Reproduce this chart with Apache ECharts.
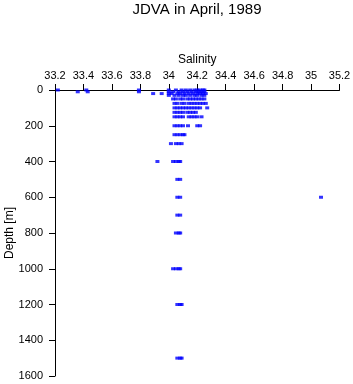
<!DOCTYPE html>
<html>
<head>
<meta charset="utf-8">
<script src="https://cdn.jsdelivr.net/npm/echarts@6/dist/echarts.min.js"></script>
<style>
  html, body { margin: 0; padding: 0; background: #fff; }
  #chart { width: 353px; height: 384px; }
</style>
</head>
<body>
<div id="chart"></div>
<script>
// standard sampling depths (m) and salinity readings at each depth
const depths = [0, 10, 20, 30, 50, 75, 100, 125, 150, 200, 250, 300, 400, 500, 600, 700, 800, 1000, 1200, 1500];
const salinity = [
    [33.22, 33.42, 33.79, 34.0, 34.05, 34.09, 34.12, 34.15, 34.18, 34.2, 34.22, 34.24, 34.25],
    [33.36, 33.43, 33.79, 34.0, 34.03, 34.07, 34.1, 34.13, 34.16, 34.19, 34.21, 34.23, 34.25],
    [33.89, 33.95, 34.0, 34.02, 34.06, 34.08, 34.11, 34.14, 34.17, 34.2, 34.22, 34.24, 34.26],
    [34.0, 34.04, 34.07, 34.1, 34.12, 34.15, 34.18, 34.2, 34.23, 34.25],
    [34.03, 34.05, 34.08, 34.1, 34.13, 34.15, 34.17, 34.19, 34.21, 34.23, 34.25],
    [34.04, 34.06, 34.09, 34.11, 34.14, 34.16, 34.18, 34.2, 34.22, 34.24, 34.26],
    [34.04, 34.06, 34.08, 34.1, 34.12, 34.14, 34.16, 34.18, 34.2, 34.22, 34.27],
    [34.04, 34.06, 34.08, 34.1, 34.13, 34.15, 34.17, 34.19],
    [34.04, 34.06, 34.08, 34.1, 34.14, 34.16, 34.18, 34.2, 34.23],
    [34.04, 34.06, 34.08, 34.1, 34.135, 34.2, 34.22],
    [34.04, 34.06, 34.08, 34.1, 34.11],
    [34.015, 34.05, 34.07, 34.09],
    [33.92, 34.03, 34.05, 34.07, 34.08],
    [34.06, 34.08],
    [34.06, 34.08, 35.07],
    [34.06, 34.08],
    [34.05, 34.07, 34.08],
    [34.03, 34.05, 34.07, 34.08],
    [34.06, 34.08, 34.09],
    [34.06, 34.08, 34.09]
];

const points = [];
depths.forEach((d, i) => {
    salinity[i].forEach(s => points.push([s, d]));
});

const chart = echarts.init(document.getElementById('chart'));
const font = 'Liberation Sans, Arial, sans-serif';

const option = {
    animation: false,
    title: {
        text: 'JDVA in April, 1989',
        left: 197,
        top: 2,
        padding: 0,
        textAlign: 'center',
        textStyle: {
            fontFamily: font,
            fontSize: 15,
            fontWeight: 'normal',
            color: '#000'
        }
    },
    grid: {
        left: 55,
        right: 13.5,
        top: 90,
        bottom: 8,
        outerBoundsMode: 'none'
    },
    xAxis: {
        type: 'value',
        position: 'top',
        name: 'Salinity',
        nameLocation: 'middle',
        nameGap: 24,
        nameMoveOverlap: false,
        nameTextStyle: { fontFamily: font, fontSize: 12, color: '#000' },
        min: 33.2,
        max: 35.2,
        interval: 0.2,
        splitLine: { show: false },
        axisLine: { lineStyle: { color: '#000' } },
        axisTick: { length: 6, lineStyle: { color: '#000' } },
        axisLabel: {
            fontFamily: font,
            fontSize: 11,
            color: '#000',
            margin: 9,
            formatter: v => String(+v.toFixed(1))
        }
    },
    yAxis: {
        type: 'value',
        inverse: true,
        name: 'Depth [m]',
        nameLocation: 'middle',
        nameGap: 39,
        nameMoveOverlap: false,
        nameTextStyle: { fontFamily: font, fontSize: 12, color: '#000' },
        min: 0,
        max: 1600,
        interval: 200,
        splitLine: { show: false },
        axisLine: { show: true, lineStyle: { color: '#000' } },
        axisTick: { show: true, length: 6, lineStyle: { color: '#000' } },
        axisLabel: {
            fontFamily: font,
            fontSize: 11,
            color: '#000',
            margin: 12,
            formatter: v => String(v)
        }
    },
    series: [
        {
            type: 'scatter',
            symbol: 'rect',
            symbolSize: [4, 3],
            itemStyle: { color: '#0000ff' },
            data: points
        }
    ]
};

chart.setOption(option);
</script>
</body>
</html>
